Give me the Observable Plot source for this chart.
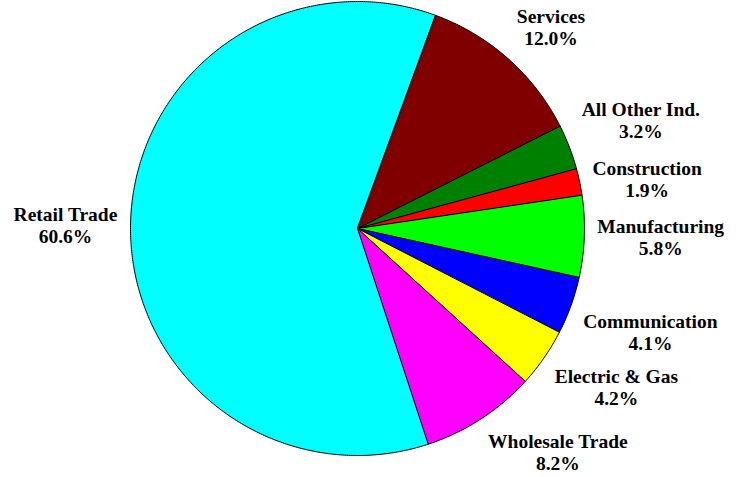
<!DOCTYPE html>
<html>
<head>
<meta charset="utf-8">
<script src="https://cdn.jsdelivr.net/npm/d3@7"></script>
<script src="https://cdn.jsdelivr.net/npm/@observablehq/plot@0.6"></script>
<style>
  html, body { margin: 0; padding: 0; background: #fff; }
  #chart svg { display: block; }
</style>
</head>
<body>
<div id="chart"></div>
<script>
const categories = ["Services", "All Other Ind.", "Construction", "Manufacturing", "Communication", "Electric & Gas", "Wholesale Trade", "Retail Trade"];
const shares = [12.0, 3.2, 1.9, 5.8, 4.1, 4.2, 8.2, 60.6];
const colors = ["#800000", "#008000", "#ff0000", "#00ff00", "#0000ff", "#ffff00", "#ff00ff", "#00ffff"];
const startDeg = 20;

const W = 740, H = 477, R = 227, CX = 357, CY = 228;
const FS = 19.5;
const font = `bold ${FS}px 'Liberation Serif', 'Times New Roman', serif`;
const ctx = document.createElement("canvas").getContext("2d");
ctx.font = font;

const pie = d3.pie().sort(null).value(d => d.v)
  .startAngle(startDeg * Math.PI / 180)
  .endAngle((startDeg + 360) * Math.PI / 180);
const arcs = pie(categories.map((c, i) => ({c, v: shares[i]})));

// polygon points for each slice (unit circle coordinates)
const pts = [];
arcs.forEach(a => {
  const name = a.data.c;
  pts.push({name, x: 0, y: 0});
  const n = Math.max(2, Math.ceil((a.endAngle - a.startAngle) / (Math.PI / 360)));
  for (let k = 0; k <= n; k++) {
    const t = a.startAngle + (a.endAngle - a.startAngle) * k / n;
    pts.push({name, x: Math.sin(t), y: Math.cos(t)});
  }
});

// labels placed just outside the rim: box corner touches the anchor point,
// vertically centred when the slice mid-angle is near horizontal
const labels = arcs.map(a => {
  const m = (a.startAngle + a.endAngle) / 2;
  const pct = a.data.v.toFixed(1) + "%";
  const text = a.data.c + "\n" + pct;
  const w = Math.max(ctx.measureText(a.data.c).width, ctx.measureText(pct).width);
  const h = 44;
  const r = 240 / R;
  const s = Math.sin(m), c = Math.cos(m);
  const x = r * s + (Math.sign(s) * w / 2) / R;
  const vy = Math.abs(c) < 0.26 ? 0 : Math.sign(c);
  const y = r * c + (vy * h / 2) / R;
  return {text, x, y};
});

const chart = Plot.plot({
  width: W, height: H,
  margin: 0,
  x: {domain: [-CX / R, (W - CX) / R], range: [0, W], axis: null},
  y: {domain: [-(H - CY) / R, CY / R], range: [H, 0], axis: null},
  color: {domain: categories, range: colors},
  marks: [
    Plot.line(pts, {x: "x", y: "y", z: "name", fill: "name", stroke: "#000", strokeWidth: 1, curve: "linear-closed"}),
    Plot.text(labels, {x: "x", y: "y", text: "text", fontSize: FS, fontWeight: "bold", fontFamily: "'Liberation Serif', 'Times New Roman', serif", fill: "#000", lineHeight: 1.13, textAnchor: "middle", lineAnchor: "middle"})
  ]
});
document.getElementById("chart").append(chart);
</script>
</body>
</html>
